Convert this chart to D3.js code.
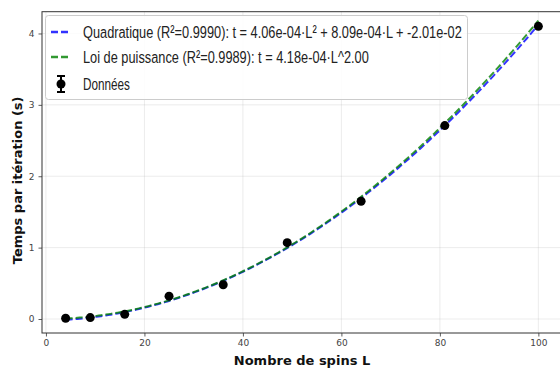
<!DOCTYPE html>
<html>
<head>
<meta charset="utf-8">
<script src="https://cdn.jsdelivr.net/npm/d3@7"></script>
<style>
  html, body { margin: 0; padding: 0; background: #fff; }
  svg { display: block; }
</style>
</head>
<body>
<svg id="chart" width="560" height="371"></svg>
<script>
// Measured time per iteration for each system size
const spins = [4, 9, 16, 25, 36, 49, 64, 81, 100];
const times = [0.01, 0.02, 0.065, 0.32, 0.48, 1.07, 1.65, 2.71, 4.10];

// Fitted models (coefficients from the legend)
const quadCoef = [4.06e-4, 8.09e-4, -2.01e-2];   // a·L² + b·L + c
const powerCoef = [4.18e-4, 2.00];                // A·L^p

const xTicks = [0, 20, 40, 60, 80, 100];
const yTicks = [0, 1, 2, 3, 4];

const legendLabels = [
  "Quadratique (R²=0.9990): t = 4.06e-04·L² + 8.09e-04·L + -2.01e-02",
  "Loi de puissance (R²=0.9989): t = 4.18e-04·L^2.00",
  "Données"
];

const svg = d3.select("#chart");
const plotL = 42, plotR = 562, plotT = 11.7, plotB = 333;

const x = d3.scaleLinear().domain([-0.8, 104.8]).range([plotL, plotR]);
const y = d3.scaleLinear().domain([-0.196, 4.305]).range([plotB, plotT]);

// grid
const grid = svg.append("g");
grid.selectAll("line.gx").data(xTicks).join("line").attr("class", "gx")
  .attr("x1", d => x(d)).attr("x2", d => x(d))
  .attr("y1", plotT).attr("y2", plotB)
  .attr("stroke", "#b0b0b0").attr("stroke-opacity", 0.3).attr("stroke-width", 0.8);
grid.selectAll("line.gy").data(yTicks).join("line").attr("class", "gy")
  .attr("y1", d => y(d)).attr("y2", d => y(d))
  .attr("x1", plotL).attr("x2", plotR)
  .attr("stroke", "#b0b0b0").attr("stroke-opacity", 0.3).attr("stroke-width", 0.8);

// axes
const xAxis = d3.axisBottom(x).tickValues(xTicks).tickFormat(d3.format("d")).tickSize(3.5).tickPadding(3.5);
const yAxis = d3.axisLeft(y).tickValues(yTicks).tickFormat(d3.format("d")).tickSize(3.5).tickPadding(4);
const gx = svg.append("g").attr("transform", `translate(0,${plotB})`).call(xAxis);
const gy = svg.append("g").attr("transform", `translate(${plotL},0)`).call(yAxis);
[gx, gy].forEach(g => {
  g.select(".domain").remove();
  g.selectAll(".tick line").attr("stroke", "#333").attr("stroke-width", 0.8);
  g.selectAll(".tick text").attr("font-family", "DejaVu Sans").attr("font-size", 9).attr("fill", "#444");
});

// spines
svg.append("rect").attr("x", plotL).attr("y", plotT)
  .attr("width", plotR - plotL).attr("height", plotB - plotT)
  .attr("fill", "none").attr("stroke", "#333").attr("stroke-width", 1);

// fitted curves
const Ls = d3.range(0, 201).map(i => 4 + i * (100 - 4) / 200);
const quad = Ls.map(L => [L, quadCoef[0] * L * L + quadCoef[1] * L + quadCoef[2]]);
const power = Ls.map(L => [L, powerCoef[0] * Math.pow(L, powerCoef[1])]);
const line = d3.line().x(d => x(d[0])).y(d => y(d[1]));

svg.append("path").attr("d", line(quad)).attr("fill", "none")
  .attr("stroke", "#0000ff").attr("stroke-width", 2).attr("stroke-dasharray", "7,3").attr("opacity", 0.8);
svg.append("path").attr("d", line(power)).attr("fill", "none")
  .attr("stroke", "#008000").attr("stroke-width", 2).attr("stroke-dasharray", "7,3").attr("opacity", 0.8);

// data points
svg.append("g").selectAll("circle").data(spins).join("circle")
  .attr("cx", d => x(d)).attr("cy", (d, i) => y(times[i]))
  .attr("r", 4.5).attr("fill", "#000");

// legend
const lg = svg.append("g");
lg.append("rect").attr("x", 45.5).attr("y", 15.5).attr("width", 422).attr("height", 84)
  .attr("rx", 3).attr("fill", "#fff").attr("fill-opacity", 0.85)
  .attr("stroke", "#ccc").attr("stroke-width", 1);
const rowsY = [32, 57, 84];
lg.append("line").attr("x1", 51).attr("x2", 71).attr("y1", rowsY[0]).attr("y2", rowsY[0])
  .attr("stroke", "#0000ff").attr("stroke-width", 2.5).attr("stroke-dasharray", "7,3").attr("opacity", 0.8);
lg.append("line").attr("x1", 51).attr("x2", 71).attr("y1", rowsY[1]).attr("y2", rowsY[1])
  .attr("stroke", "#008000").attr("stroke-width", 2.5).attr("stroke-dasharray", "7,3").attr("opacity", 0.8);
// errorbar glyph
lg.append("line").attr("x1", 61).attr("x2", 61).attr("y1", 76).attr("y2", 92).attr("stroke", "#000").attr("stroke-width", 2);
lg.append("line").attr("x1", 57).attr("x2", 65).attr("y1", 76).attr("y2", 76).attr("stroke", "#000").attr("stroke-width", 2);
lg.append("line").attr("x1", 57).attr("x2", 65).attr("y1", 92).attr("y2", 92).attr("stroke", "#000").attr("stroke-width", 2);
lg.append("circle").attr("cx", 61).attr("cy", 84).attr("r", 4.5).attr("fill", "#000");

// legend labels, horizontally condensed to their measured widths
const textWidths = [379, 286, 47];
legendLabels.forEach((label, i) => {
  const g = lg.append("g").attr("transform", `translate(83,${rowsY[i] + 6})`);
  const t = g.append("text").attr("x", 0).attr("y", 0)
    .attr("font-family", "Liberation Sans").attr("font-size", 17).attr("fill", "#222")
    .text(label);
  const w = t.node().getComputedTextLength();
  t.attr("transform", `scale(${textWidths[i] / w},1)`);
});

// axis titles
svg.append("text").attr("x", (plotL + plotR) / 2).attr("y", 365)
  .attr("text-anchor", "middle").attr("font-family", "DejaVu Sans").attr("font-weight", "bold")
  .attr("font-size", 13).attr("fill", "#111").text("Nombre de spins L");
svg.append("text").attr("transform", `translate(22,${(plotT + plotB) / 2 + 8}) rotate(-90)`)
  .attr("text-anchor", "middle").attr("font-family", "DejaVu Sans").attr("font-weight", "bold")
  .attr("font-size", 13).attr("fill", "#111").text("Temps par itération (s)");
</script>
</body>
</html>
